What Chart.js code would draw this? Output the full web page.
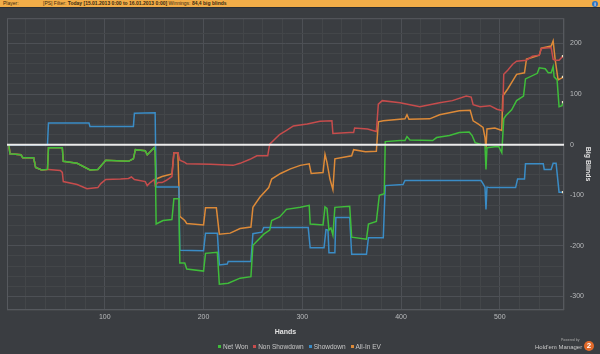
<!DOCTYPE html>
<html>
<head>
<meta charset="utf-8">
<script src="https://cdn.jsdelivr.net/npm/chart.js@4.4.1/dist/chart.umd.min.js"></script>
<style>
    body {
        margin: 0;
        width: 600px;
        height: 354px;
        background: #3a3d41;
        overflow: hidden;
        position: relative;
        font-family: "Liberation Sans", Arial, sans-serif;
    }
    #topbar {
        position: absolute;
        left: 0; top: 0;
        width: 600px; height: 7px;
        background: #f2ad48;
        border-bottom: 1px solid #2c2e31;
        color: #3b2b12;
        font-size: 5px;
        line-height: 7px;
    }
    #topbar span { position: absolute; top: 0; white-space: nowrap; }
    #topbar b { font-weight: bold; }
    #info {
        position: absolute; left: 592px; top: 1px;
        width: 6px; height: 6px; border-radius: 50%;
        background: #2f74c0; color: #fff; font-size: 5px; line-height: 6px;
        text-align: center; font-weight: bold;
    }
    #chartBox { position: absolute; left: 0; top: 8px; width: 600px; height: 346px; }
    #legend {
        position: absolute; left: 218px; top: 343px;
        font-size: 6.5px; color: #c8c8c8; white-space: nowrap;
    }
    #legend .item { display: inline-block; margin-right: 5px; }
    #legend .sw { display: inline-block; width: 3px; height: 3px; margin-right: 2px; vertical-align: 1px; }
    #logo { position: absolute; left: 530px; top: 336px; width: 70px; height: 18px; }
    #logo .small { position: absolute; left: 31px; top: 2px; font-size: 3.5px; color: #aaa; }
    #logo .name { position: absolute; left: 5px; top: 8px; font-size: 6px; color: #c8c8c8; white-space: nowrap; }
    #logo .badge {
        position: absolute; left: 54px; top: 5px; width: 10px; height: 10px; border-radius: 50%;
        background: #e0692a; color: #fff; font-size: 8px; line-height: 10px; text-align: center; font-weight: bold;
    }
</style>
</head>
<body>
<div id="topbar">
    <span style="left:3px">Player:</span>
    <span style="left:43px">[PS] Filter: <b>Today [15.01.2013 0:00 to 16.01.2013 0:00]</b> Winnings: <b>84,4 big blinds</b></span>
    <div id="info">i</div>
</div>
<div id="chartBox"><canvas id="resultsChart" width="600" height="346"></canvas></div>
<div id="legend"></div>
<div id="logo">
    <div class="small">Powered by</div>
    <div class="name">Hold'em Manager</div>
    <div class="badge">2</div>
</div>
<script>
// Series data (hand number, big blinds)
const seriesNames = ['Net Won', 'Non Showdown', 'Showdown', 'All-In EV'];
const seriesColors = ['#3fbd3a', '#c64c4c', '#3a8cc6', '#dd8a38'];

const netWonHands = [1, 3, 4, 15, 17, 28, 30, 36, 42, 43,
    57, 58, 72, 85, 93, 101, 124, 129, 131, 141,
    143, 147, 150, 151, 152, 159, 168, 170, 175, 176,
    181, 183, 200, 202, 214, 216, 225, 237, 248, 250,
    257, 261, 267, 269, 277, 284, 298, 307, 308, 321,
    323, 325, 327, 329, 331, 333, 348, 350, 365, 367,
    375, 378, 383, 384, 399, 404, 406, 409, 432, 436,
    449, 459, 469, 472, 475, 482, 485, 486, 487, 495,
    499, 502, 504, 506, 512, 517, 524, 526, 538, 540,
    546, 549, 552, 554, 555, 558, 560, 563, 564];
const netWonValues = [0, -2, -18, -20, -26, -26, -45, -50, -49, -6,
    -6, -33, -37, -50, -49, -31, -33, -28, -10, -12,
    -20, -12, -6, -14, -157, -150, -148, -107, -107, -234,
    -234, -246, -250, -215, -213, -276, -274, -264, -261, -199,
    -185, -177, -169, -150, -143, -128, -124, -120, -157, -159,
    -123, -126, -169, -165, -179, -124, -122, -183, -187, -157,
    -152, -100, -97, 6, 8, 8, 16, 9, 8, 14,
    18, 24, 25, 18, 4, 0, -2, -49, -6, -4,
    -4, -16, 51, 57, 69, 87, 96, 130, 141, 152,
    150, 142, 142, 154, 134, 128, 75, 77, 84];

const nonShowdownHands = [1, 3, 4, 15, 17, 28, 30, 36, 42, 43,
    55, 57, 58, 72, 82, 93, 96, 101, 116, 124,
    127, 130, 141, 143, 146, 150, 151, 154, 158, 162,
    168, 170, 174, 176, 181, 183, 207, 230, 237, 247,
    254, 265, 267, 277, 284, 291, 305, 318, 330, 331,
    348, 352, 353, 366, 375, 377, 381, 399, 409, 419,
    439, 452, 466, 471, 473, 480, 490, 497, 503, 504,
    508, 513, 517, 527, 533, 540, 542, 552, 554, 556,
    560, 564];
const nonShowdownValues = [0, -2, -18, -20, -26, -26, -45, -50, -49, -49,
    -51, -55, -73, -79, -87, -85, -77, -69, -68, -67,
    -64, -69, -73, -81, -75, -69, -81, -75, -75, -71,
    -63, -16, -16, -31, -35, -38, -39, -41, -37, -29,
    -22, -22, 1, 20, 28, 37, 41, 46, 47, 22,
    24, 24, 33, 31, 26, 80, 87, 83, 79, 75,
    83, 87, 96, 94, 79, 75, 77, 70, 67, 139,
    147, 159, 165, 167, 175, 177, 190, 192, 169, 167,
    167, 175];

const showdownHands = [1, 42, 43, 84, 85, 129, 130, 151, 152, 175,
    176, 200, 202, 214, 216, 224, 225, 248, 250, 259,
    261, 306, 308, 322, 324, 326, 327, 333, 334, 348,
    350, 365, 367, 382, 384, 402, 404, 481, 483, 485,
    486, 487, 490, 516, 518, 525, 526, 544, 545, 552,
    554, 557, 560, 564];
const showdownValues = [0, 0, 43, 43, 36, 36, 62, 63, -84, -84,
    -209, -210, -175, -175, -238, -236, -231, -231, -176, -173,
    -164, -164, -204, -204, -168, -169, -214, -214, -144, -144,
    -217, -217, -184, -184, -81, -79, -71, -71, -77, -84,
    -128, -84, -85, -85, -68, -68, -38, -38, -49, -49,
    -37, -37, -94, -94];

const allInEvHands = [1, 3, 4, 15, 17, 28, 30, 36, 42, 43,
    57, 58, 72, 85, 93, 101, 124, 129, 131, 141,
    143, 147, 150, 151, 152, 158, 168, 170, 174, 176,
    181, 183, 200, 202, 213, 216, 227, 237, 248, 250,
    257, 266, 269, 278, 288, 298, 307, 309, 321, 323,
    325, 328, 331, 333, 350, 352, 364, 375, 377, 382,
    404, 406, 408, 429, 439, 459, 470, 473, 478, 483,
    485, 486, 487, 495, 502, 503, 508, 513, 517, 525,
    527, 540, 542, 552, 554, 556, 559, 563, 564];
const allInEvValues = [0, -2, -18, -20, -26, -26, -45, -50, -49, -6,
    -6, -33, -37, -50, -49, -31, -33, -28, -10, -12,
    -20, -12, -6, -14, -68, -63, -58, -16, -16, -142,
    -150, -156, -159, -125, -125, -177, -175, -166, -163, -124,
    -104, -85, -68, -57, -48, -41, -38, -57, -55, -19,
    -35, -68, -89, -28, -22, -10, -14, -13, 45, 47,
    51, 59, 50, 51, 59, 67, 68, 47, 41, 34,
    14, -8, 31, 33, 28, 96, 110, 126, 139, 142,
    169, 177, 191, 195, 205, 169, 128, 132, 134];

const handsMin = 1;
const handsMax = 565;
const bbMin = -327;
const bbMax = 250;

function toPoints(hands, values) {
    return hands.map((h, i) => ({ x: h, y: values[i] }));
}

function makeDataset(index, hands, values) {
    const last = hands.length - 1;
    return {
        label: seriesNames[index],
        data: toPoints(hands, values),
        borderColor: seriesColors[index],
        backgroundColor: seriesColors[index],
        borderWidth: 1.5,
        tension: 0,
        fill: false,
        pointStyle: 'rect',
        pointRadius: ctx => ctx.dataIndex === last ? 1.6 : 0,
        pointBackgroundColor: '#f3e8c8',
        pointBorderWidth: 0
    };
}

// White zero line and frame drawn over the lines
const frameAndZero = {
    id: 'frameAndZero',
    afterDatasetsDraw(chart) {
        const { ctx, chartArea, scales } = chart;
        const y0 = scales.y.getPixelForValue(0);
        ctx.save();
        ctx.strokeStyle = '#56595e';
        ctx.lineWidth = 1;
        ctx.strokeRect(chartArea.left + 0.5, chartArea.top + 0.5,
            chartArea.right - chartArea.left - 1, chartArea.bottom - chartArea.top - 1);
        ctx.strokeStyle = '#ececec';
        ctx.lineWidth = 2;
        ctx.beginPath();
        ctx.moveTo(chartArea.left, y0);
        ctx.lineTo(chartArea.right, y0);
        ctx.stroke();
        ctx.restore();
    }
};

function gridColor(ctx) {
    const v = ctx.tick ? ctx.tick.value : 1;
    return v % 100 === 0 ? '#4d5055' : '#434649';
}

function initializeChart() {
    const ctx = document.getElementById('resultsChart');

    new Chart(ctx, {
        type: 'line',
        data: {
            datasets: [
                makeDataset(0, netWonHands, netWonValues),
                makeDataset(1, nonShowdownHands, nonShowdownValues),
                makeDataset(2, showdownHands, showdownValues),
                makeDataset(3, allInEvHands, allInEvValues)
            ]
        },
        options: {
            responsive: false,
            animation: false,
            devicePixelRatio: 1,
            layout: { padding: { top: 9, left: 7, right: 0, bottom: 16 } },
            plugins: {
                legend: { display: false },
                tooltip: { enabled: false }
            },
            scales: {
                x: {
                    type: 'linear',
                    min: handsMin,
                    max: handsMax,
                    grid: { color: gridColor, drawTicks: false },
                    border: { display: false },
                    ticks: {
                        stepSize: 20,
                        autoSkip: false,
                        maxRotation: 0,
                        padding: 3,
                        color: '#b9bbbd',
                        font: { size: 7, family: 'Liberation Sans' },
                        callback: v => v % 100 === 0 ? v : ''
                    },
                    title: {
                        display: true,
                        text: 'Hands',
                        color: '#e2e2e2',
                        font: { size: 7, weight: 'bold', family: 'Liberation Sans' },
                        padding: { top: 0, bottom: 2 }
                    },
                    afterFit: scale => { scale.height = 28; }
                },
                y: {
                    position: 'right',
                    min: bbMin,
                    max: bbMax,
                    grid: { color: gridColor, drawTicks: false },
                    border: { display: false },
                    ticks: {
                        stepSize: 20,
                        autoSkip: false,
                        padding: 6,
                        color: '#b9bbbd',
                        font: { size: 7, family: 'Liberation Sans' },
                        callback: v => v % 100 === 0 ? v : ''
                    },
                    title: {
                        display: true,
                        text: 'Big Blinds',
                        color: '#e2e2e2',
                        font: { size: 7, weight: 'bold', family: 'Liberation Sans' },
                        padding: { top: 8, bottom: 0 }
                    },
                    afterFit: scale => { scale.width = 36; }
                }
            }
        },
        plugins: [frameAndZero]
    });
}

function initializeLegend() {
    const box = document.getElementById('legend');
    seriesNames.forEach((name, i) => {
        const item = document.createElement('span');
        item.className = 'item';
        item.innerHTML = '<span class="sw" style="background:' + seriesColors[i] + '"></span>' + name;
        box.appendChild(item);
    });
}

initializeChart();
initializeLegend();
</script>
</body>
</html>
